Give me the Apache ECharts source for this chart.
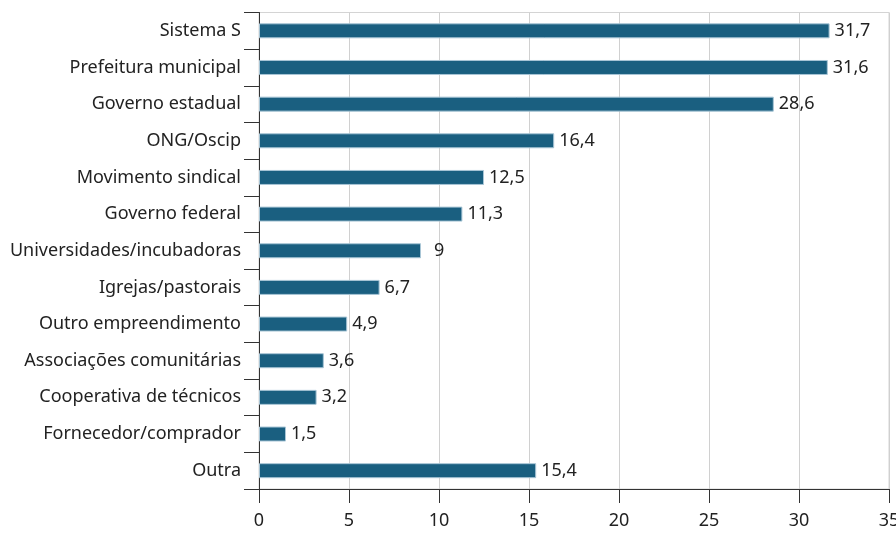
<!DOCTYPE html>
<html>
<head>
<meta charset="utf-8">
<script src="https://cdn.jsdelivr.net/npm/echarts@6/dist/echarts.min.js"></script>
<style>
  html, body { margin: 0; padding: 0; background: #fff; }
  #chart { width: 896px; height: 533px; }
</style>
</head>
<body>
<div id="chart"></div>
<script>
const categories = [
  'Sistema S',
  'Prefeitura municipal',
  'Governo estadual',
  'ONG/Oscip',
  'Movimento sindical',
  'Governo federal',
  'Universidades/incubadoras',
  'Igrejas/pastorais',
  'Outro empreendimento',
  'Associações comunitárias',
  'Cooperativa de técnicos',
  'Fornecedor/comprador',
  'Outra'
]
const values = [31.7, 31.6, 28.6, 16.4, 12.5, 11.3, 9, 6.7, 4.9, 3.6, 3.2, 1.5, 15.4]

const font = 'Noto Sans'
const chart = echarts.init(document.getElementById('chart'))

// the original puts the "9" label a bit further from its bar
const barData = values.map(v => (v === 9 ? { value: v, label: { distance: 13 } } : v))

chart.setOption({
  animation: false,
  grid: {
    left: 259,
    right: 7,
    top: 12.5,
    bottom: 44,
    outerBoundsMode: 'none',
    containLabel: false,
    show: true,
    borderColor: '#d4d4d4',
    borderWidth: 1
  },
  xAxis: {
    type: 'value',
    min: 0,
    max: 35,
    interval: 5,
    axisLine: { show: true, lineStyle: { color: '#333', width: 1 } },
    axisTick: { show: true, length: 14, lineStyle: { color: '#333' } },
    axisLabel: { color: '#222', fontSize: 18, fontFamily: font, margin: 23 },
    splitLine: { show: true, lineStyle: { color: '#d0d0d0' } }
  },
  yAxis: {
    type: 'category',
    inverse: true,
    data: categories,
    axisLine: { show: true, lineStyle: { color: '#333', width: 1 } },
    axisTick: { show: true, length: 15, lineStyle: { color: '#333' } },
    axisLabel: { color: '#222', fontSize: 18, fontFamily: font, margin: 18 }
  },
  series: [
    {
      type: 'bar',
      data: barData,
      barWidth: 15,
      itemStyle: {
        color: '#1a5f80',
        borderColor: '#a9c6d6',
        borderWidth: 1
      },
      label: {
        show: true,
        position: 'right',
        distance: 5,
        color: '#222',
        fontSize: 18,
        fontFamily: font,
        formatter: p => String(p.value).replace('.', ',')
      }
    }
  ]
})
</script>
</body>
</html>
